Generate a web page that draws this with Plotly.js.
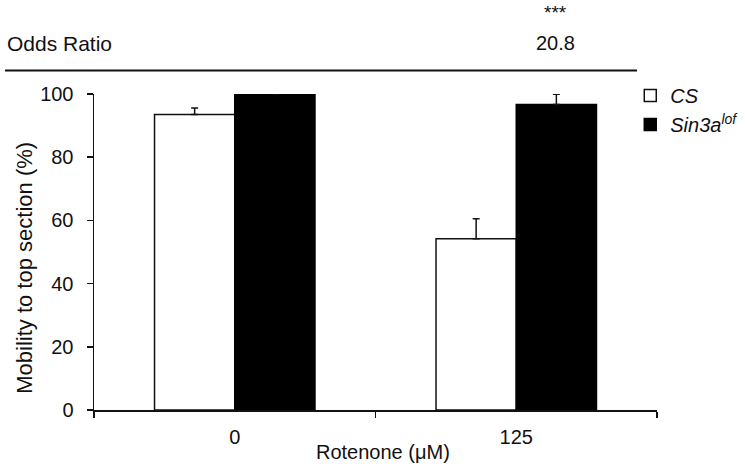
<!DOCTYPE html>
<html>
<head>
<meta charset="utf-8">
<script src="https://cdn.plot.ly/plotly-3.0.1.min.js"></script>
<style>html,body{margin:0;padding:0;background:#fff;}#chart{width:745px;height:468px;}</style>
</head>
<body>
<div id="chart"></div>
<script>
const categories = ["0", "125"];
const csValues = [93.5, 54.2];
const csErrors = [2.1, 6.3];
const sinValues = [100, 96.7];
const sinErrors = [0, 3.2];
const seriesNames = ["<i>CS</i>", "<i>Sin3a<sup>lof</sup></i>"];
const oddsLabel = "Odds Ratio";
const oddsValue = "20.8";
const significance = "***";
const xTitle = "Rotenone (μM)";
const yTitle = "Mobility to top section (%)";

const font = "Liberation Sans, Arial, sans-serif";
const ink = "#111";

const traces = [
  {
    type: "bar", name: seriesNames[0], x: categories, y: csValues,
    marker: {color: "#ffffff", line: {color: ink, width: 1.5}},
    error_y: {type: "data", symmetric: false, array: csErrors, arrayminus: [0, 0], color: ink, thickness: 1.5, width: 3.5}
  },
  {
    type: "bar", name: seriesNames[1], x: categories, y: sinValues,
    marker: {color: "#000000", line: {color: "#000000", width: 1.5}},
    error_y: {type: "data", symmetric: false, array: sinErrors, arrayminus: [0, 0], color: ink, thickness: 1.5, width: 3.5}
  }
];

const layout = {
  width: 745, height: 468,
  margin: {l: 94, r: 88, t: 93.5, b: 58, autoexpand: false},
  paper_bgcolor: "#fff", plot_bgcolor: "#fff",
  font: {family: font, size: 19, color: ink},
  barmode: "group", bargap: 0.43, bargroupgap: 0,
  showlegend: true,
  legend: {xref: "container", yref: "container", x: 0.846, y: 0.8376, xanchor: "left", yanchor: "top",
           font: {size: 20, family: font, color: ink}, bgcolor: "rgba(0,0,0,0)", tracegroupgap: 0},
  xaxis: {
    type: "category", range: [-0.5, 1.5], tickson: "boundaries",
    ticks: "outside", ticklen: 6, tickwidth: 1.5, tickcolor: ink,
    showline: true, linecolor: ink, linewidth: 1.5, showgrid: false, zeroline: false,
    tickfont: {size: 20}, ticklabelstandoff: 8, fixedrange: true
  },
  yaxis: {
    range: [0, 100], tickvals: [0, 20, 40, 60, 80, 100],
    ticks: "outside", ticklen: 6, tickwidth: 1.5, tickcolor: ink,
    showline: true, linecolor: ink, linewidth: 1.5, showgrid: false, zeroline: false,
    tickfont: {size: 20}, ticklabelstandoff: 9
  },
  annotations: [
    {text: yTitle, xref: "paper", yref: "paper", x: -0.1226, y: 0.45, xanchor: "center", yanchor: "middle", textangle: -90, showarrow: false, font: {size: 22}},
    {text: xTitle, xref: "paper", yref: "paper", x: 0.513, y: -0.133, xanchor: "center", yanchor: "middle", showarrow: false, font: {size: 20}},
    {text: oddsLabel, xref: "paper", yref: "paper", x: -0.158, y: 1.16, xanchor: "left", yanchor: "middle", showarrow: false, font: {size: 21}},
    {text: oddsValue, xref: "paper", yref: "paper", x: 0.819, y: 1.16, xanchor: "center", yanchor: "middle", showarrow: false, font: {size: 20}},
    {text: significance, xref: "paper", yref: "paper", x: 0.819, y: 1.258, xanchor: "center", yanchor: "middle", showarrow: false, font: {size: 19}}
  ],
  shapes: [
    {type: "line", xref: "paper", yref: "paper", x0: -0.158, x1: 0.9645, y0: 1.0743, y1: 1.0743, line: {color: ink, width: 2}}
  ]
};

Plotly.newPlot("chart", traces, layout, {displayModeBar: false, staticPlot: true});
</script>
</body>
</html>
